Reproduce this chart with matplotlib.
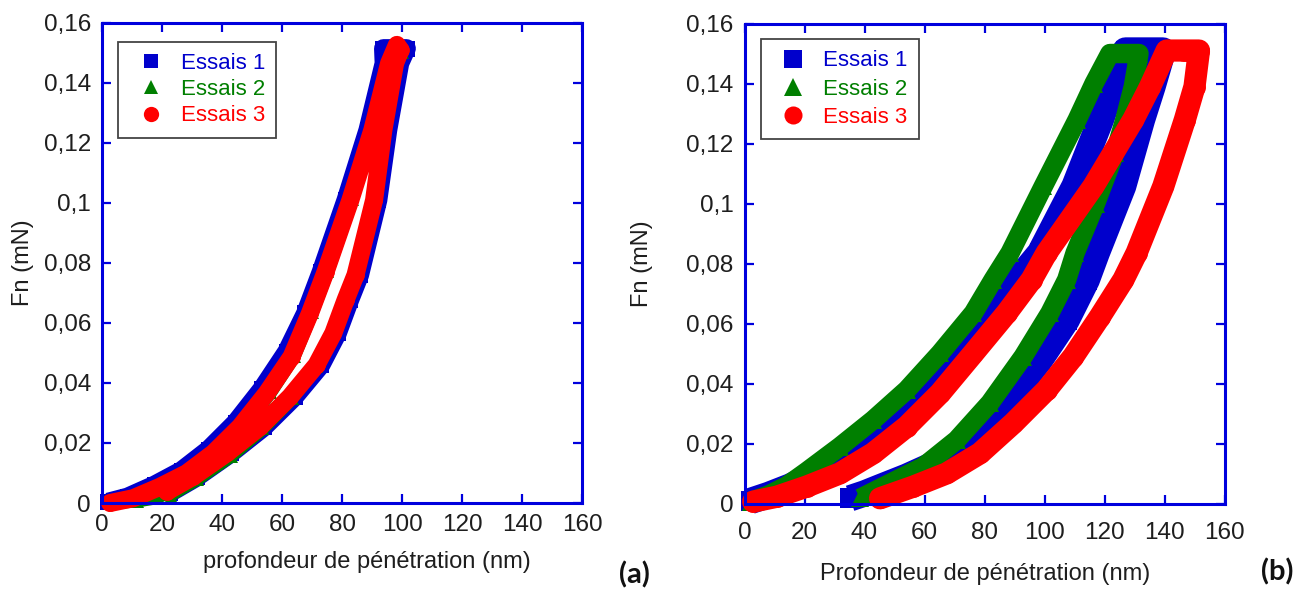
import matplotlib
matplotlib.use("Agg")
import matplotlib.pyplot as plt
from matplotlib.lines import Line2D

# ---------------- data ----------------
series_labels = ["Essais 1", "Essais 2", "Essais 3"]
series_colors = ["#0000CC", "#007F00", "#FF0000"]
series_markers = ["s", "^", "o"]

x_ticks = [0, 20, 40, 60, 80, 100, 120, 140, 160]
y_ticks = [0, 0.02, 0.04, 0.06, 0.08, 0.10, 0.12, 0.14, 0.16]
y_tick_labels = ["0", "0,02", "0,04", "0,06", "0,08", "0,1", "0,12", "0,14", "0,16"]

# panel (a): loading -> peak -> unloading path for each test
a_depth_1 = [2.0, 8.5, 17.5, 26.5, 35.5, 44.5, 53.3, 61.6, 67.8, 73.0, 81.3, 88.6, 94.0, 93.8,
             97.5, 101.5, 99.3, 95.3, 92.0, 85.9, 82.6, 78.5, 73.0, 64.2, 54.1, 43.0, 31.6, 22.5]
a_force_1 = [0.0003, 0.0020, 0.0060, 0.0108, 0.0178, 0.0268, 0.0380, 0.0505, 0.0632, 0.0770, 0.1010,
             0.1243, 0.1466, 0.1515, 0.1515, 0.1515, 0.1466, 0.1243, 0.1010, 0.0760, 0.0677, 0.0566,
             0.0460, 0.0354, 0.0254, 0.0166, 0.0086, 0.0033]
a_depth_2 = [6.0, 12.0, 18.0, 24.0, 31.0, 39.5, 47.8, 56.3, 64.3, 70.2, 75.4, 83.6, 90.8, 96.2, 99.5,
             100.2, 98.2, 94.3, 90.6, 84.3, 81.0, 77.2, 71.8, 63.6, 53.8, 43.2, 32.0, 23.0]
a_force_2 = [0.0, 0.0005, 0.0015, 0.0040, 0.0085, 0.0155, 0.0254, 0.0366, 0.0488, 0.0632, 0.0770,
             0.1010, 0.1243, 0.1466, 0.1500, 0.1500, 0.1466, 0.1243, 0.1010, 0.0760, 0.0677, 0.0566,
             0.0455, 0.0348, 0.0246, 0.0155, 0.0078, 0.0025]
a_depth_3 = [2.7, 10.4, 19.3, 28.2, 37.1, 46.0, 54.9, 63.2, 69.3, 74.5, 82.8, 90.1, 95.7, 98.3,
             99.5, 97.7, 93.8, 90.7, 84.5, 81.2, 77.1, 71.5, 62.7, 52.7, 41.6, 30.4, 21.6]
a_force_3 = [0.0, 0.0016, 0.0054, 0.0099, 0.0166, 0.0254, 0.0366, 0.0488, 0.0632, 0.0770, 0.1010,
             0.1243, 0.1466, 0.1527, 0.1510, 0.1466, 0.1243, 0.1010, 0.0760, 0.0677, 0.0566, 0.0460,
             0.0354, 0.0254, 0.0166, 0.0088, 0.0038]

# panel (b)
b_depth_1 = [2.0, 8.0, 15.2, 23.0, 31.8, 42.9, 54.1, 65.2, 76.3, 87.4, 98.5, 110.0, 118.8, 123.8, 127.0,
             133.0, 139.5, 136.0, 132.5, 126.2, 117.4, 114.1, 107.4, 98.5, 87.4, 76.3, 65.2, 54.1,
             45.0, 40.0, 35.2]
b_force_1 = [0.0010, 0.0030, 0.0058, 0.0095, 0.0141, 0.0224, 0.0319, 0.0436, 0.0563, 0.0702, 0.0836,
             0.1058, 0.1280, 0.1420, 0.1510, 0.1510, 0.1510, 0.1390, 0.1280, 0.1058, 0.0836, 0.0747,
             0.0613, 0.0480, 0.0336, 0.0224, 0.0141, 0.0091, 0.0055, 0.0035, 0.0019]
b_depth_2 = [2.0, 8.0, 14.0, 20.7, 31.8, 42.9, 54.1, 65.2, 76.3, 82.9, 88.5, 99.6, 110.9, 116.5, 121.8,
             126.5, 131.5, 129.6, 126.8, 123.5, 117.0, 110.2, 107.4, 101.8, 92.9, 81.8, 70.7, 59.6,
             48.5, 38.5]
b_force_2 = [0.0008, 0.0030, 0.0060, 0.0108, 0.0191, 0.0280, 0.0380, 0.0502, 0.0636, 0.0747, 0.0836,
             0.1058, 0.1280, 0.1400, 0.1500, 0.1500, 0.1500, 0.1390, 0.1280, 0.1170, 0.1000, 0.0836,
             0.0747, 0.0636, 0.0491, 0.0336, 0.0213, 0.0124, 0.0069, 0.0019]
b_depth_3 = [2.9, 10.7, 20.7, 31.8, 42.9, 54.1, 65.2, 76.3, 87.4, 95.7, 100.7, 116.3, 129.6, 135.2,
             140.7, 146.5, 151.5, 150.0, 146.8, 139.6, 130.7, 126.3, 118.5, 109.6, 100.7, 89.6, 78.5,
             67.4, 56.3, 45.2]
b_force_3 = [0.0008, 0.0024, 0.0058, 0.0102, 0.0169, 0.0258, 0.0369, 0.0502, 0.0636, 0.0747, 0.0836,
             0.1058, 0.1280, 0.1390, 0.1510, 0.1510, 0.1510, 0.1390, 0.1280, 0.1058, 0.0836, 0.0747,
             0.0624, 0.0491, 0.0380, 0.0269, 0.0169, 0.0102, 0.0058, 0.0019]

panel_a = [(a_depth_1, a_force_1), (a_depth_2, a_force_2), (a_depth_3, a_force_3)]
panel_b = [(b_depth_1, b_force_1), (b_depth_2, b_force_2), (b_depth_3, b_force_3)]

# ---------------- styling ----------------
plt.rcParams["font.family"] = ["Liberation Sans", "DejaVu Sans"]
SPINE = "#0000DD"
TXT = "#1E1E1E"

fig = plt.figure(figsize=(13.14, 5.91), dpi=100)
fig.patch.set_facecolor("white")

W, H = 1314.0, 591.0
def axes_rect(l, t, r, b):
    return [l / W, 1 - b / H, (r - l) / W, (b - t) / H]

ax_a = fig.add_axes(axes_rect(102, 23, 582, 503))
ax_b = fig.add_axes(axes_rect(744.5, 23.5, 1224.5, 504))

# marker sizes / band widths per panel (points)
ms_a = [11, 9, 12]
lw_a = [13.5, 8.5, 13]
ms_b = [14, 13, 15]
lw_b = [19, 14, 16]

def draw(ax, data, ms, lw):
    for (x, y), c, m, s, w in zip(data, series_colors, series_markers, ms, lw):
        cap = "round" if m == "o" else "butt"
        ax.plot(x, y, color=c, lw=w, solid_joinstyle="round", solid_capstyle=cap,
                marker=m, ms=s, mec=c, mfc=c, mew=0, clip_on=False, zorder=3)

def style(ax, xlabel, xpad):
    ax.set_xlim(0, 160)
    ax.set_ylim(0, 0.16)
    ax.set_xticks(x_ticks)
    ax.set_xticklabels([str(v) for v in x_ticks])
    ax.set_yticks(y_ticks)
    ax.set_yticklabels(y_tick_labels)
    for sp in ax.spines.values():
        sp.set_color(SPINE)
        sp.set_linewidth(2.2)
        sp.set_zorder(4)
    ax.tick_params(direction="in", length=6.5, width=1.6, color=SPINE,
                   labelcolor=TXT, labelsize=17.5, top=True, right=True)
    ax.tick_params(axis="y", pad=8)
    ax.tick_params(axis="x", pad=xpad)
    ax.set_xlabel(xlabel, fontsize=17, color=TXT)
    ax.set_ylabel("Fn (mN)", fontsize=17, color=TXT)

draw(ax_a, panel_a, ms_a, lw_a)
draw(ax_b, panel_b, ms_b, lw_b)
style(ax_a, "profondeur de pénétration (nm)", 8)
style(ax_b, "Profondeur de pénétration (nm)", 13)

# label positions (axes coords)
ax_a.xaxis.set_label_coords((367 - 102) / 480, (503 - 562) / 480)
ax_a.xaxis.label.set_verticalalignment("center")
ax_b.xaxis.set_label_coords((985.6 - 744.5) / 480, (504 - 574) / 480.5)
ax_b.xaxis.label.set_verticalalignment("center")
ax_a.yaxis.set_label_coords((23 - 102) / 480, 0.5)
ax_a.yaxis.label.set_verticalalignment("center")
ax_b.yaxis.set_label_coords((642 - 744.5) / 480, 0.5)
ax_b.yaxis.label.set_verticalalignment("center")

def legend(ax, ms, anchor, spacing):
    handles = [Line2D([], [], ls="none", marker=m, ms=s, color=c, mew=0)
               for m, s, c in zip(series_markers, ms, series_colors)]
    leg = ax.legend(handles, series_labels, loc="upper left", bbox_to_anchor=anchor,
                    fontsize=16, labelcolor=series_colors, frameon=True, fancybox=False,
                    borderpad=0.5, labelspacing=spacing, handlelength=1.95,
                    handletextpad=0.37, borderaxespad=0.0)
    fr = leg.get_frame()
    fr.set_edgecolor("#444444")
    fr.set_linewidth(1.3)
    fr.set_facecolor("white")
    fr.set_alpha(1)
    leg.set_zorder(5)
    return leg

legend(ax_a, [10.5, 9.5, 11], ((118.3 - 102) / 480, (503 - 41.7) / 480), 0.24)
legend(ax_b, [12.5, 12.5, 13], ((760.7 - 744.5) / 480, (504 - 39.3) / 480.5), 0.32)

fig.text(634 / W, 1 - 575 / H, "(a)", fontsize=21, fontweight="bold", family="Lato",
         ha="center", va="center", color="#111111")
fig.text(1277 / W, 1 - 571.5 / H, "(b)", fontsize=21, fontweight="bold", family="Lato",
         ha="center", va="center", color="#111111")

fig.savefig("out.png", dpi=100, facecolor="white")
